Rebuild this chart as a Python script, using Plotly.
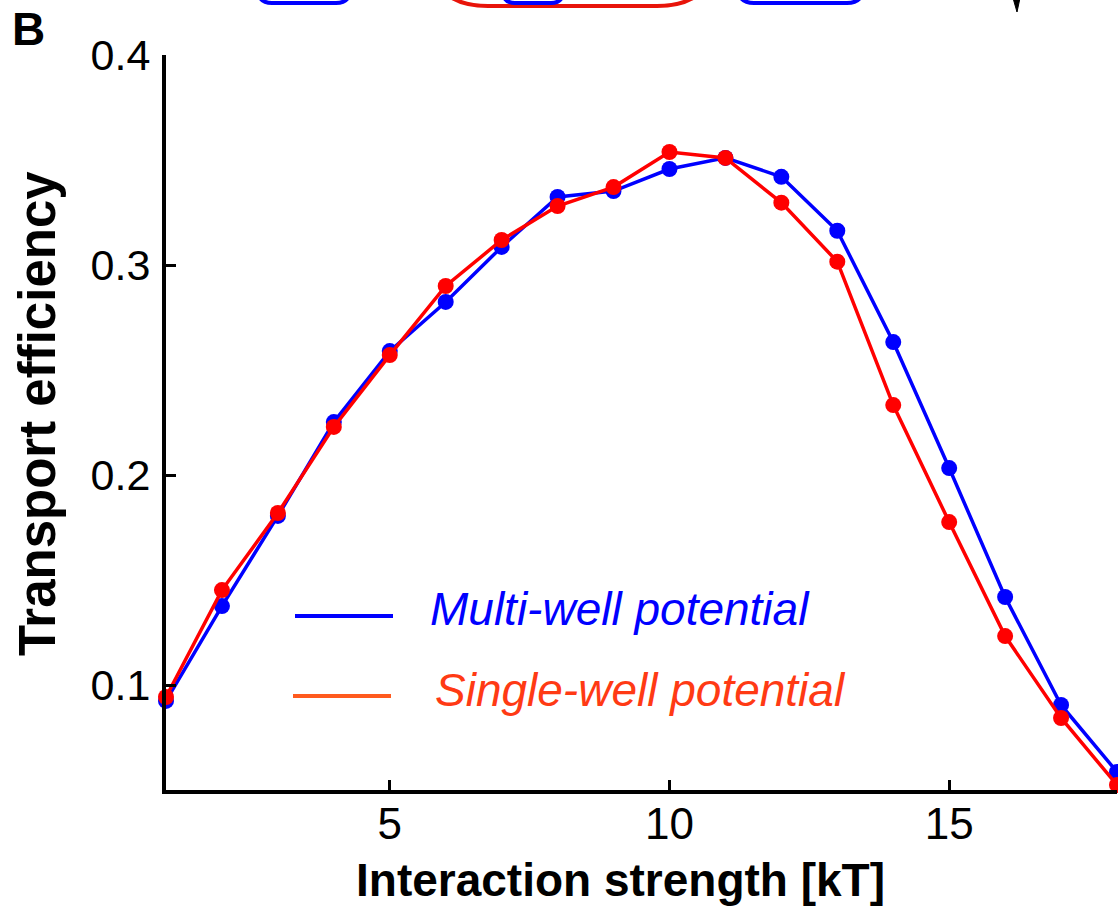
import plotly.graph_objects as go

# ---------------- data ----------------
interaction_strength = list(range(1, 19))
multi_well = [0.0924, 0.1376, 0.1805, 0.2252, 0.2590, 0.2824, 0.3086, 0.3324, 0.3352,
              0.3457, 0.3510, 0.3420, 0.3163, 0.2633, 0.2033, 0.1419, 0.0905, 0.0586]
single_well = [0.0943, 0.1452, 0.1819, 0.2229, 0.2571, 0.2900, 0.3119, 0.3281, 0.3371,
               0.3538, 0.3510, 0.3297, 0.3016, 0.2333, 0.1776, 0.1233, 0.0843, 0.0524]
y_ticks = [0.1, 0.2, 0.3, 0.4]
y_tick_labels = ["0.1", "0.2", "0.3", "0.4"]
x_ticks = [5, 10, 15]
x_tick_labels = ["5", "10", "15"]
series_names = ["Multi-well potential", "Single-well potential"]

# ---------------- layout geometry ----------------
W, H = 1118, 907
L, R, T, B = 166, 1, 55, 117
PW, PH = W - L - R, H - T - B
FONT = "Liberation Sans, Arial, Helvetica, sans-serif"


def px(x):
    return (x - L) / PW


def py(y):
    return (H - B - y) / PH


fig = go.Figure()
fig.add_trace(go.Scatter(x=interaction_strength, y=multi_well, mode="lines+markers",
                         name=series_names[0], line=dict(color="#0000FF", width=3.5),
                         marker=dict(color="#0000FF", size=16), cliponaxis=False,
                         showlegend=False))
fig.add_trace(go.Scatter(x=interaction_strength, y=single_well, mode="lines+markers",
                         name=series_names[1], line=dict(color="#FF0000", width=3.5),
                         marker=dict(color="#FF0000", size=16), cliponaxis=False,
                         showlegend=False))

shapes = []
# legend lines
shapes.append(dict(type="line", xref="paper", yref="paper", x0=px(295), x1=px(393),
                   y0=py(616), y1=py(616), line=dict(color="#0000FF", width=4)))
shapes.append(dict(type="line", xref="paper", yref="paper", x0=px(293), x1=px(391),
                   y0=py(696), y1=py(696), line=dict(color="#FF5A1E", width=4)))


def ushape(x0, x1, yb, r, top=-40):
    return ("M {a},{t} L {a},{c} Q {a},{b} {a2},{b} L {d2},{b} Q {d},{b} {d},{c} L {d},{t}"
            .format(a=px(x0), d=px(x1), t=py(top), c=py(yb - r), b=py(yb),
                    a2=px(x0 + r), d2=px(x1 - r)))


# partial shapes of the panel above (cut off at top)
shapes.append(dict(type="path", xref="paper", yref="paper", path=ushape(258, 350, 3, 14),
                   line=dict(color="#0000FF", width=4)))
shapes.append(dict(type="path", xref="paper", yref="paper", path=ushape(428, 717, 6, 60, top=-60),
                   line=dict(color="#E8140A", width=4)))
shapes.append(dict(type="path", xref="paper", yref="paper", path=ushape(503, 563, 3, 12),
                   line=dict(color="#0000FF", width=4)))
shapes.append(dict(type="path", xref="paper", yref="paper", path=ushape(738, 863, 3, 16),
                   line=dict(color="#0000FF", width=4)))
shapes.append(dict(type="path", xref="paper", yref="paper",
                   path="M {a},{t} L {b},{t} L {c},{m} Z".format(a=px(1013), b=px(1020), c=px(1017),
                                                                t=py(-2), m=py(12)),
                   fillcolor="black", line=dict(color="black", width=1)))

annotations = [
    dict(text="<i>" + series_names[0] + "</i>", xref="paper", yref="paper", x=px(428), y=py(609),
         xanchor="left", yanchor="middle", showarrow=False,
         font=dict(family=FONT, size=46, color="#0000FF")),
    dict(text="<i>" + series_names[1] + "</i>", xref="paper", yref="paper", x=px(433), y=py(690),
         xanchor="left", yanchor="middle", showarrow=False,
         font=dict(family=FONT, size=46, color="#FF3A14")),
    dict(text="<b>B</b>", xref="paper", yref="paper", x=px(10), y=py(29),
         xanchor="left", yanchor="middle", showarrow=False,
         font=dict(family=FONT, size=46, color="black")),
    dict(text="<b>Interaction strength [kT]</b>", xref="paper", yref="paper", x=px(620), y=py(880),
         xanchor="center", yanchor="middle", showarrow=False,
         font=dict(family=FONT, size=46, color="black")),
    dict(text="<b>Transport efficiency</b>", xref="paper", yref="paper", x=px(37), y=py(414),
         xanchor="center", yanchor="middle", showarrow=False, textangle=-90,
         font=dict(family=FONT, size=51, color="black")),
]

fig.update_layout(
    width=W, height=H,
    margin=dict(l=L, r=R, t=T, b=B, pad=0),
    paper_bgcolor="white", plot_bgcolor="white",
    shapes=shapes, annotations=annotations,
    font=dict(family=FONT, color="black"),
    xaxis=dict(range=[1, 18], tickmode="array", tickvals=x_ticks, ticktext=x_tick_labels,
               ticks="inside", ticklen=10, tickwidth=3, tickcolor="black",
               showline=True, linecolor="black", linewidth=4, showgrid=False, zeroline=False,
               tickfont=dict(family=FONT, size=44, color="black"), ticklabelstandoff=-8),
    yaxis=dict(range=[0.05, 0.4], tickmode="array", tickvals=y_ticks, ticktext=y_tick_labels,
               ticks="inside", ticklen=10, tickwidth=3, tickcolor="black",
               showline=True, linecolor="black", linewidth=4, showgrid=False, zeroline=False,
               tickfont=dict(family=FONT, size=43, color="black"), ticklabelstandoff=3),
)

fig.write_html("out.html", config={"displayModeBar": False},
               post_script="document.body.style.margin='0';document.body.style.overflow='hidden';")
